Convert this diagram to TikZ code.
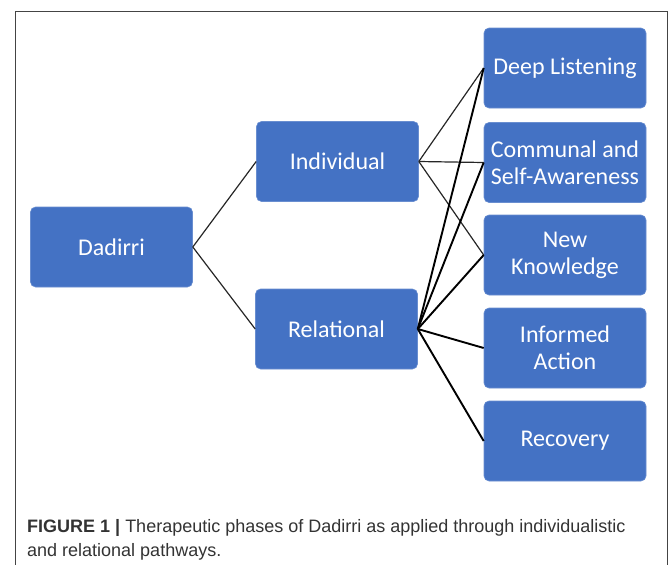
\documentclass[tikz,border=0pt]{standalone}
\usepackage{fontspec}
\setmainfont{Carlito}
\newfontfamily\capfont{Liberation Sans}
\definecolor{boxblue}{HTML}{4472C4}
\definecolor{framegray}{HTML}{444444}
\definecolor{captext}{HTML}{333333}
\tikzset{
  phase/.style={rectangle, rounded corners=5pt, fill=boxblue, draw=boxblue!80!white, line width=0.6pt,
    text=white, minimum width=162pt, minimum height=80pt, align=center, inner sep=2pt,
    font=\fontsize{24}{27}\selectfont},
  thinlink/.style={draw=black!85, line width=1.2pt},
  thicklink/.style={draw=black, line width=1.9pt},
  captionstyle/.style={anchor=base west, inner sep=0pt, text=captext, font=\capfont\fontsize{18}{24}\selectfont}
}
\begin{document}
\begin{tikzpicture}[x=1pt,y=-1pt]
\useasboundingbox (0,0) rectangle (670,565);
\draw[framegray, line width=1pt] (15,565) -- (15,11) -- (667,11) -- (667,565);
\node[phase] (dad) at (111.5,247) {Dadirri};
\node[phase] (ind) at (337.5,161.5) {Individual};
\node[phase] (rel) at (336.5,329) {Relational};
\node[phase] (deep) at (565,68) {Deep Listening};
\node[phase] (comm) at (565,162.5) {Communal and\\Self-Awareness};
\node[phase] (newk) at (565,255) {New\\Knowledge};
\node[phase] (info) at (565,348) {Informed\\Action};
\node[phase] (reco) at (565,441) {Recovery};
\draw[thinlink] (dad.east) -- (ind.west);
\draw[thinlink] (dad.east) -- (rel.west);
\draw[thinlink] (ind.east) -- (deep.west);
\draw[thinlink] (ind.east) -- (comm.west);
\draw[thinlink] (ind.east) -- (newk.west);
\draw[thicklink] (rel.east) -- (deep.west);
\draw[thicklink] (rel.east) -- (comm.west);
\draw[thicklink] (rel.east) -- (newk.west);
\draw[thicklink] (rel.east) -- (info.west);
\draw[thicklink] (rel.east) -- (reco.west);
\node[captionstyle] (cap1) at (27,532) {\textbf{FIGURE 1 |} Therapeutic phases of Dadirri as applied through individualistic};
\node[captionstyle] (cap2) at (27,556) {and relational pathways.};
\end{tikzpicture}
\end{document}
